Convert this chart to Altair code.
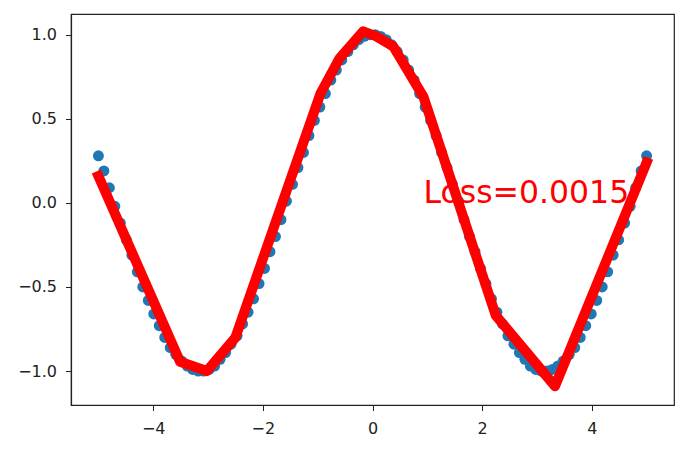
import altair as alt
import pandas as pd

# scatter samples
pts_x = [-5.00, -4.90, -4.80, -4.70, -4.60, -4.49, -4.39, -4.29, -4.19, -4.09,
         -3.99, -3.89, -3.79, -3.69, -3.59, -3.48, -3.38, -3.28, -3.18, -3.08,
         -2.98, -2.88, -2.78, -2.68, -2.58, -2.47, -2.37, -2.27, -2.17, -2.07,
         -1.97, -1.87, -1.77, -1.67, -1.57, -1.46, -1.36, -1.26, -1.16, -1.06,
         -0.96, -0.86, -0.76, -0.66, -0.56, -0.45, -0.35, -0.25, -0.15, -0.05,
         0.05, 0.15, 0.25, 0.35, 0.45, 0.56, 0.66, 0.76, 0.86, 0.96,
         1.06, 1.16, 1.26, 1.36, 1.46, 1.57, 1.67, 1.77, 1.87, 1.97,
         2.07, 2.17, 2.27, 2.37, 2.47, 2.58, 2.68, 2.78, 2.88, 2.98,
         3.08, 3.18, 3.28, 3.38, 3.48, 3.59, 3.69, 3.79, 3.89, 3.99,
         4.09, 4.19, 4.29, 4.39, 4.49, 4.60, 4.70, 4.80, 4.90, 5.00]
pts_y = [0.28, 0.19, 0.09, -0.02, -0.12, -0.22, -0.31, -0.41, -0.50, -0.58,
         -0.66, -0.73, -0.80, -0.86, -0.90, -0.94, -0.97, -0.99, -1.00, -1.00,
         -0.99, -0.97, -0.93, -0.89, -0.84, -0.79, -0.72, -0.65, -0.57, -0.48,
         -0.39, -0.29, -0.20, -0.10, 0.01, 0.11, 0.21, 0.30, 0.40, 0.49,
         0.57, 0.65, 0.73, 0.79, 0.85, 0.90, 0.94, 0.97, 0.99, 1.00,
         1.00, 0.99, 0.97, 0.94, 0.90, 0.85, 0.79, 0.73, 0.65, 0.57,
         0.49, 0.40, 0.30, 0.21, 0.11, 0.01, -0.10, -0.20, -0.29, -0.39,
         -0.48, -0.57, -0.65, -0.72, -0.79, -0.84, -0.89, -0.93, -0.97, -0.99,
         -1.00, -1.00, -0.99, -0.97, -0.94, -0.90, -0.86, -0.80, -0.73, -0.66,
         -0.58, -0.50, -0.41, -0.31, -0.22, -0.12, -0.02, 0.09, 0.19, 0.28]

# prediction line vertices
pred_x = [-5.00, -3.51, -3.02, -2.50, -0.95, -0.60, -0.17, 0.07, 0.38, 0.93, 2.25, 3.33, 5.00]
pred_y = [0.16, -0.945, -1.00, -0.80, 0.65, 0.86, 1.02, 0.99, 0.93, 0.63, -0.67, -1.09, 0.24]

label_text = ["Loss=0.0015"]
label_x = [0.93]
label_y = [0.0]

x_ticks = [-4, -2, 0, 2, 4]
y_ticks = [-1.0, -0.5, 0.0, 0.5, 1.0]

pts = pd.DataFrame({"x": pts_x, "y": pts_y})
pred = pd.DataFrame({"x": pred_x, "y": pred_y, "o": list(range(len(pred_x)))})
lab = pd.DataFrame({"x": label_x, "y": label_y, "t": label_text})

xs = alt.Scale(domain=[-5.5, 5.5], nice=False, zero=False)
ys = alt.Scale(domain=[-1.2016, 1.123], nice=False, zero=False)
xax = alt.Axis(values=x_ticks, format="d", title=None, grid=False, labelPadding=10)
yax = alt.Axis(values=y_ticks, format=".1f", title=None, grid=False, labelPadding=9)

scatter = alt.Chart(pts).mark_circle(size=120, color="#1f77b4", opacity=1).encode(
    x=alt.X("x:Q", scale=xs, axis=xax),
    y=alt.Y("y:Q", scale=ys, axis=yax),
)
line = alt.Chart(pred).mark_line(color="#ff0000", strokeWidth=10, strokeCap="square",
                                 strokeJoin="round").encode(
    x=alt.X("x:Q", scale=xs),
    y=alt.Y("y:Q", scale=ys),
    order="o:Q",
)
text = alt.Chart(lab).mark_text(color="#ff0000", fontSize=31.5, font="DejaVu Sans",
                                align="left", baseline="alphabetic").encode(
    x=alt.X("x:Q", scale=xs),
    y=alt.Y("y:Q", scale=ys),
    text="t:N",
)

chart = alt.layer(scatter, line, text).properties(
    width=603, height=391,
    padding={"left": 63, "top": 6, "right": 5, "bottom": 40},
    autosize=alt.AutoSizeParams(type="none"),
).configure_view(stroke="#222222", strokeWidth=1.2).configure_axis(
    domainColor="#222222", domainWidth=1.2, tickColor="#222222", tickSize=5.5, tickWidth=1,
    labelFont="DejaVu Sans", labelFontSize=16, labelColor="#222222",
)

chart.save("out.html", embed_options={"renderer": "svg", "actions": False})
